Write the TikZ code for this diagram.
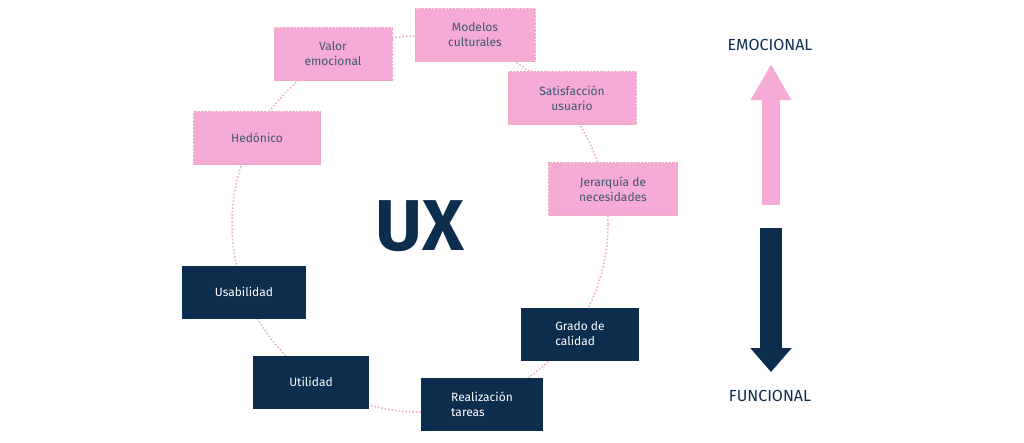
\documentclass[tikz,border=0pt]{standalone}
\usepackage{fontspec}
\setmainfont{Fira Sans}
\usetikzlibrary{arrows.meta, shapes, positioning}
\definecolor{uxpink}{RGB}{246,170,214}
\definecolor{uxnavy}{RGB}{12,45,78}
\definecolor{uxdot}{RGB}{240,170,190}
\tikzset{pinkbox/.style={rectangle, fill=uxpink, draw=uxdot, densely dotted, minimum width=126pt, minimum height=53pt, align=center, text=uxnavy!80, font=\fontsize{12}{15}\selectfont},
  navybox/.style={rectangle, fill=uxnavy, minimum width=122pt, minimum height=53pt, align=left, text=white, font=\fontsize{12}{15}\selectfont}}

\begin{document}
\begin{tikzpicture}[x=1pt, y=-1pt]
        \useasboundingbox (0,0) rectangle (1024,442);
        % Ring
        \draw[uxdot, dotted, line width=1.5pt] (420,224) circle (188pt);
        % Boxes
        \node[pinkbox, minimum width=120pt] (modelos) at (475,35) {Modelos\\culturales};
        \node[pinkbox, minimum width=118pt] (valor) at (333,54) {Valor\\emocional};
        \node[pinkbox, minimum width=128pt] (satisf) at (572,98) {Satisfacción\\usuario};
        \node[pinkbox, minimum width=127pt] (hedon) at (257,138) {Hedónico};
        \node[pinkbox, minimum width=129pt] (jerarq) at (613,189) {Jerarquía de\\necesidades};
        \node[navybox, minimum width=124pt] (usab) at (244,292) {Usabilidad};
        \node[navybox, minimum width=118pt] (grado) at (580,334) {Grado de\\calidad};
        \node[navybox, minimum width=116pt] (util) at (311,382) {Utilidad};
        \node[navybox, minimum width=122pt] (realiz) at (482,404) {Realización\\tareas};
        % Center
        \node[text=uxnavy, font=\fontsize{72}{72}\bfseries\selectfont] (ux) at (420,226) {UX};
        % Scale
        \node[text=uxnavy, font=\fontsize{16}{18}\selectfont] (emoc) at (770,45) {EMOCIONAL};
        \node[text=uxnavy, font=\fontsize{16}{18}\selectfont] (func) at (770,396) {FUNCIONAL};
        \coordinate (pinkbot) at (771,205);
        \coordinate (pinktop) at (771,64);
        \coordinate (navytop) at (771,228);
        \coordinate (navybot) at (771,372);
        \draw[uxpink, line width=18pt, -{Triangle[width=38pt, length=36pt]}] (pinkbot) -- (pinktop);
        \draw[uxnavy, line width=22pt, -{Triangle[width=40pt, length=24pt]}] (navytop) -- (navybot);
\end{tikzpicture}
\end{document}
